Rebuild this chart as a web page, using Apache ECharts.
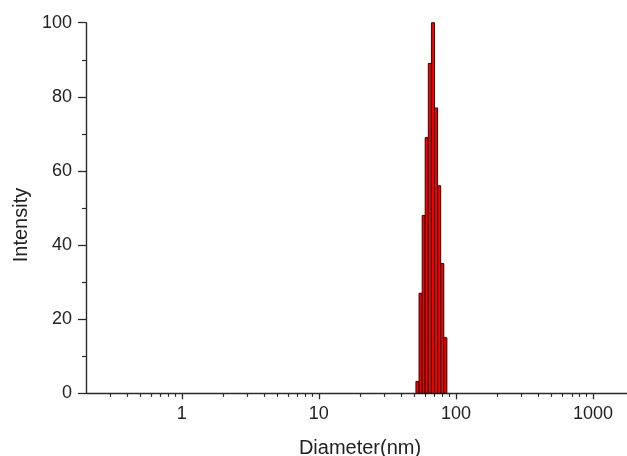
<!DOCTYPE html>
<html>
<head>
<meta charset="utf-8">
<script src="https://cdn.jsdelivr.net/npm/echarts@6/dist/echarts.min.js"></script>
<style>html,body{margin:0;padding:0;background:#fff;}#c{width:627px;height:456px;}</style>
</head>
<body>
<div id="c"></div>
<script>
const diameters = [52.4, 55.2, 58.2, 61.2, 64.5, 68.0, 71.6, 75.4, 79.5, 83.7];
const intensity = [3.2, 27, 48, 69, 89, 100, 77, 56, 35, 15];
const binRatio = 1.0534;
const xMajorTicks = [1, 10, 100, 1000];
const xMinorTicks = [0.3,0.4,0.5,0.6,0.7,0.8,0.9,2,3,4,5,6,7,8,9,20,30,40,50,60,70,80,90,200,300,400,500,600,700,800,900];
const xMin = 0.2, xMax = 1770;

const chart = echarts.init(document.getElementById('c'));
const font = 'Liberation Sans, Arial, sans-serif';
const axisColor = '#2a2a2a';
chart.setOption({
  animation: false,
  grid: {left: 86, right: 0, top: 22.7, bottom: 62.7, containLabel: false, outerBoundsMode: 'none'},
  xAxis: [{
    type: 'log', min: xMin, max: xMax, logBase: 10,
    name: 'Diameter(nm)', nameLocation: 'middle', nameGap: 45,
    nameTextStyle: {fontFamily: font, fontSize: 20, color: '#222', padding: [0, 0, 0, 7]},
    axisLine: {show: true, lineStyle: {color: axisColor, width: 1.4}},
    axisTick: {show: true, length: 6, customValues: xMajorTicks, lineStyle: {color: axisColor, width: 1.3}},
    axisLabel: {customValues: xMajorTicks, fontFamily: font, fontSize: 18, color: '#222', margin: 12,
      formatter: function (v) { return String(v); }},
    splitLine: {show: false}
  }, {
    type: 'log', min: xMin, max: xMax, logBase: 10, position: 'bottom',
    axisLine: {show: false},
    axisTick: {show: true, length: 3.5, customValues: xMinorTicks, lineStyle: {color: axisColor, width: 1.2}},
    axisLabel: {show: false},
    splitLine: {show: false}
  }],
  yAxis: {
    type: 'value', min: 0, max: 100, interval: 20,
    name: 'Intensity', nameLocation: 'middle', nameGap: 55,
    nameTextStyle: {fontFamily: font, fontSize: 20, color: '#222', padding: [0, 34, 0, 0]},
    axisLine: {show: true, lineStyle: {color: axisColor, width: 1.4}},
    axisTick: {show: true, length: 8, lineStyle: {color: axisColor, width: 1.3}},
    minorTick: {show: true, splitNumber: 2, length: 4, lineStyle: {color: axisColor, width: 1.2}},
    axisLabel: {fontFamily: font, fontSize: 18, color: '#222', margin: 14},
    splitLine: {show: false}
  },
  series: [{
    type: 'custom',
    xAxisIndex: 0,
    data: diameters.map((d, i) => [d, intensity[i]]),
    encode: {x: 0, y: 1},
    renderItem: function (params, api) {
      const c = api.value(0), v = api.value(1);
      const h = Math.sqrt(binRatio);
      const p0 = api.coord([c / h, v]);
      const p1 = api.coord([c * h, 0]);
      return {
        type: 'rect',
        shape: {x: p0[0], y: p0[1], width: p1[0] - p0[0], height: p1[1] - p0[1]},
        style: {fill: '#f20000', stroke: '#1a0000', lineWidth: 0.9}
      };
    }
  }]
});
</script>
</body>
</html>
